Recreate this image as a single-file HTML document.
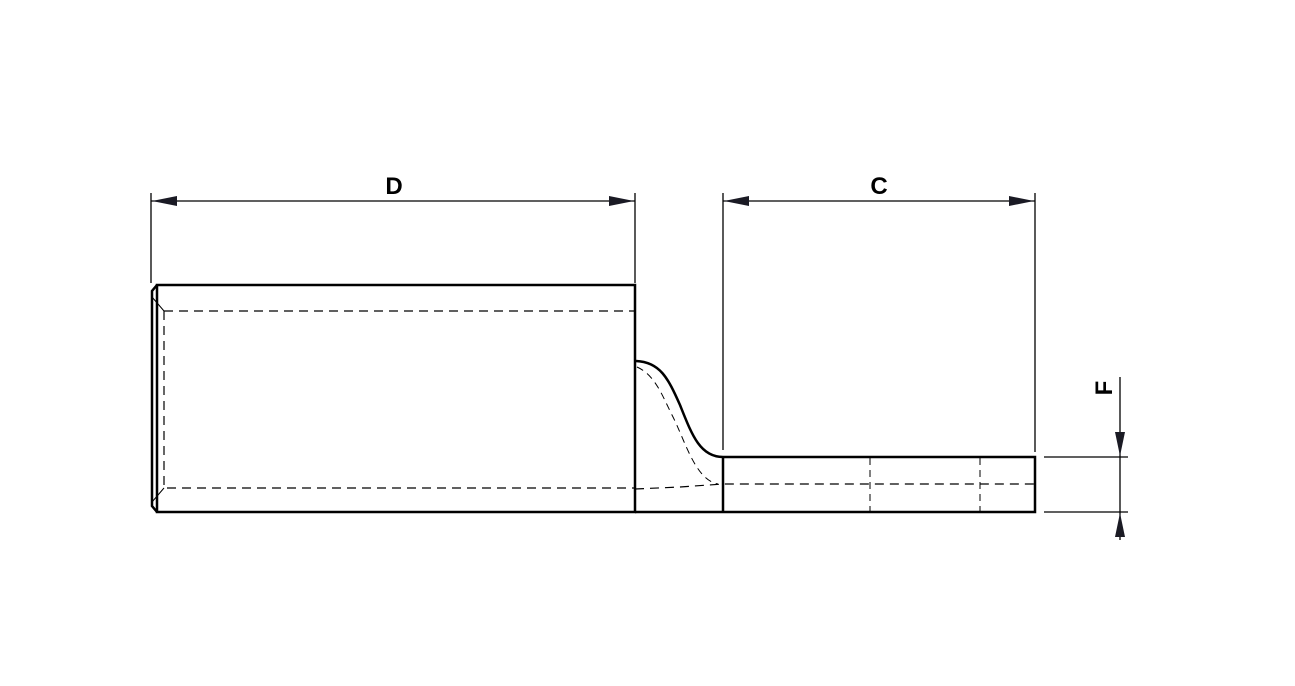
<!DOCTYPE html>
<html><head><style>html,body{margin:0;padding:0;background:#fff}</style></head>
<body>
<svg width="1295" height="681" viewBox="0 0 1295 681" xmlns="http://www.w3.org/2000/svg">
<g fill="none" stroke="#000">
<!-- body -->
<path d="M157 285 H635 V512 H157 Z" stroke-width="2.5"/>
<path d="M157 285 L152 291 V506 L157 512" stroke-width="2.5"/>
<path d="M152 297 L164 311 M152 502 L164 488" stroke-width="1"/>
<path d="M164 311 H635 M164 311 V488 H635" stroke-width="1.2" stroke-dasharray="9,6"/>
<!-- neck -->
<path d="M636 361 C660 362 668 378 680 405 C692 435 700 457 723 457 H1035 V512 H635" stroke-width="2.5"/>
<line x1="723" y1="457" x2="723" y2="512" stroke-width="2.5"/>
<path d="M637 367 C655 375 662 395 672 415 C685 440 695 480 718 484" stroke-width="1" stroke-dasharray="7,5"/>
<path d="M635 489 L680 487 L723 484 H1035" stroke-width="1.2" stroke-dasharray="9,6"/>
<path d="M870 458 V511 M980 458 V511" stroke-width="1" stroke-dasharray="7,5"/>
<!-- dimension lines -->
<g stroke-width="1.3">
<path d="M151 193 V283 M635 193 V283 M151 201 H635"/>
<path d="M723 193 V450 M1035 193 V452 M723 201 H1035"/>
<path d="M1120 377 V540 M1044 457 H1128 M1044 512 H1128"/>
</g>
</g>
<g fill="#1a1a24">
<path d="M152 201 L177 196 L177 206 Z"/>
<path d="M634 201 L609 196 L609 206 Z"/>
<path d="M724 201 L749 196 L749 206 Z"/>
<path d="M1034 201 L1009 196 L1009 206 Z"/>
<path d="M1120 456 L1115 432 L1125 432 Z"/>
<path d="M1120 513 L1115 537 L1125 537 Z"/>
</g>
<g font-family="Liberation Sans, sans-serif" font-weight="bold" font-size="24" fill="#000">
<text x="394" y="194" text-anchor="middle">D</text>
<text x="879" y="194" text-anchor="middle">C</text>
<text transform="translate(1112,388) rotate(-90)" text-anchor="middle">F</text>
</g>
</svg>
</body></html>
